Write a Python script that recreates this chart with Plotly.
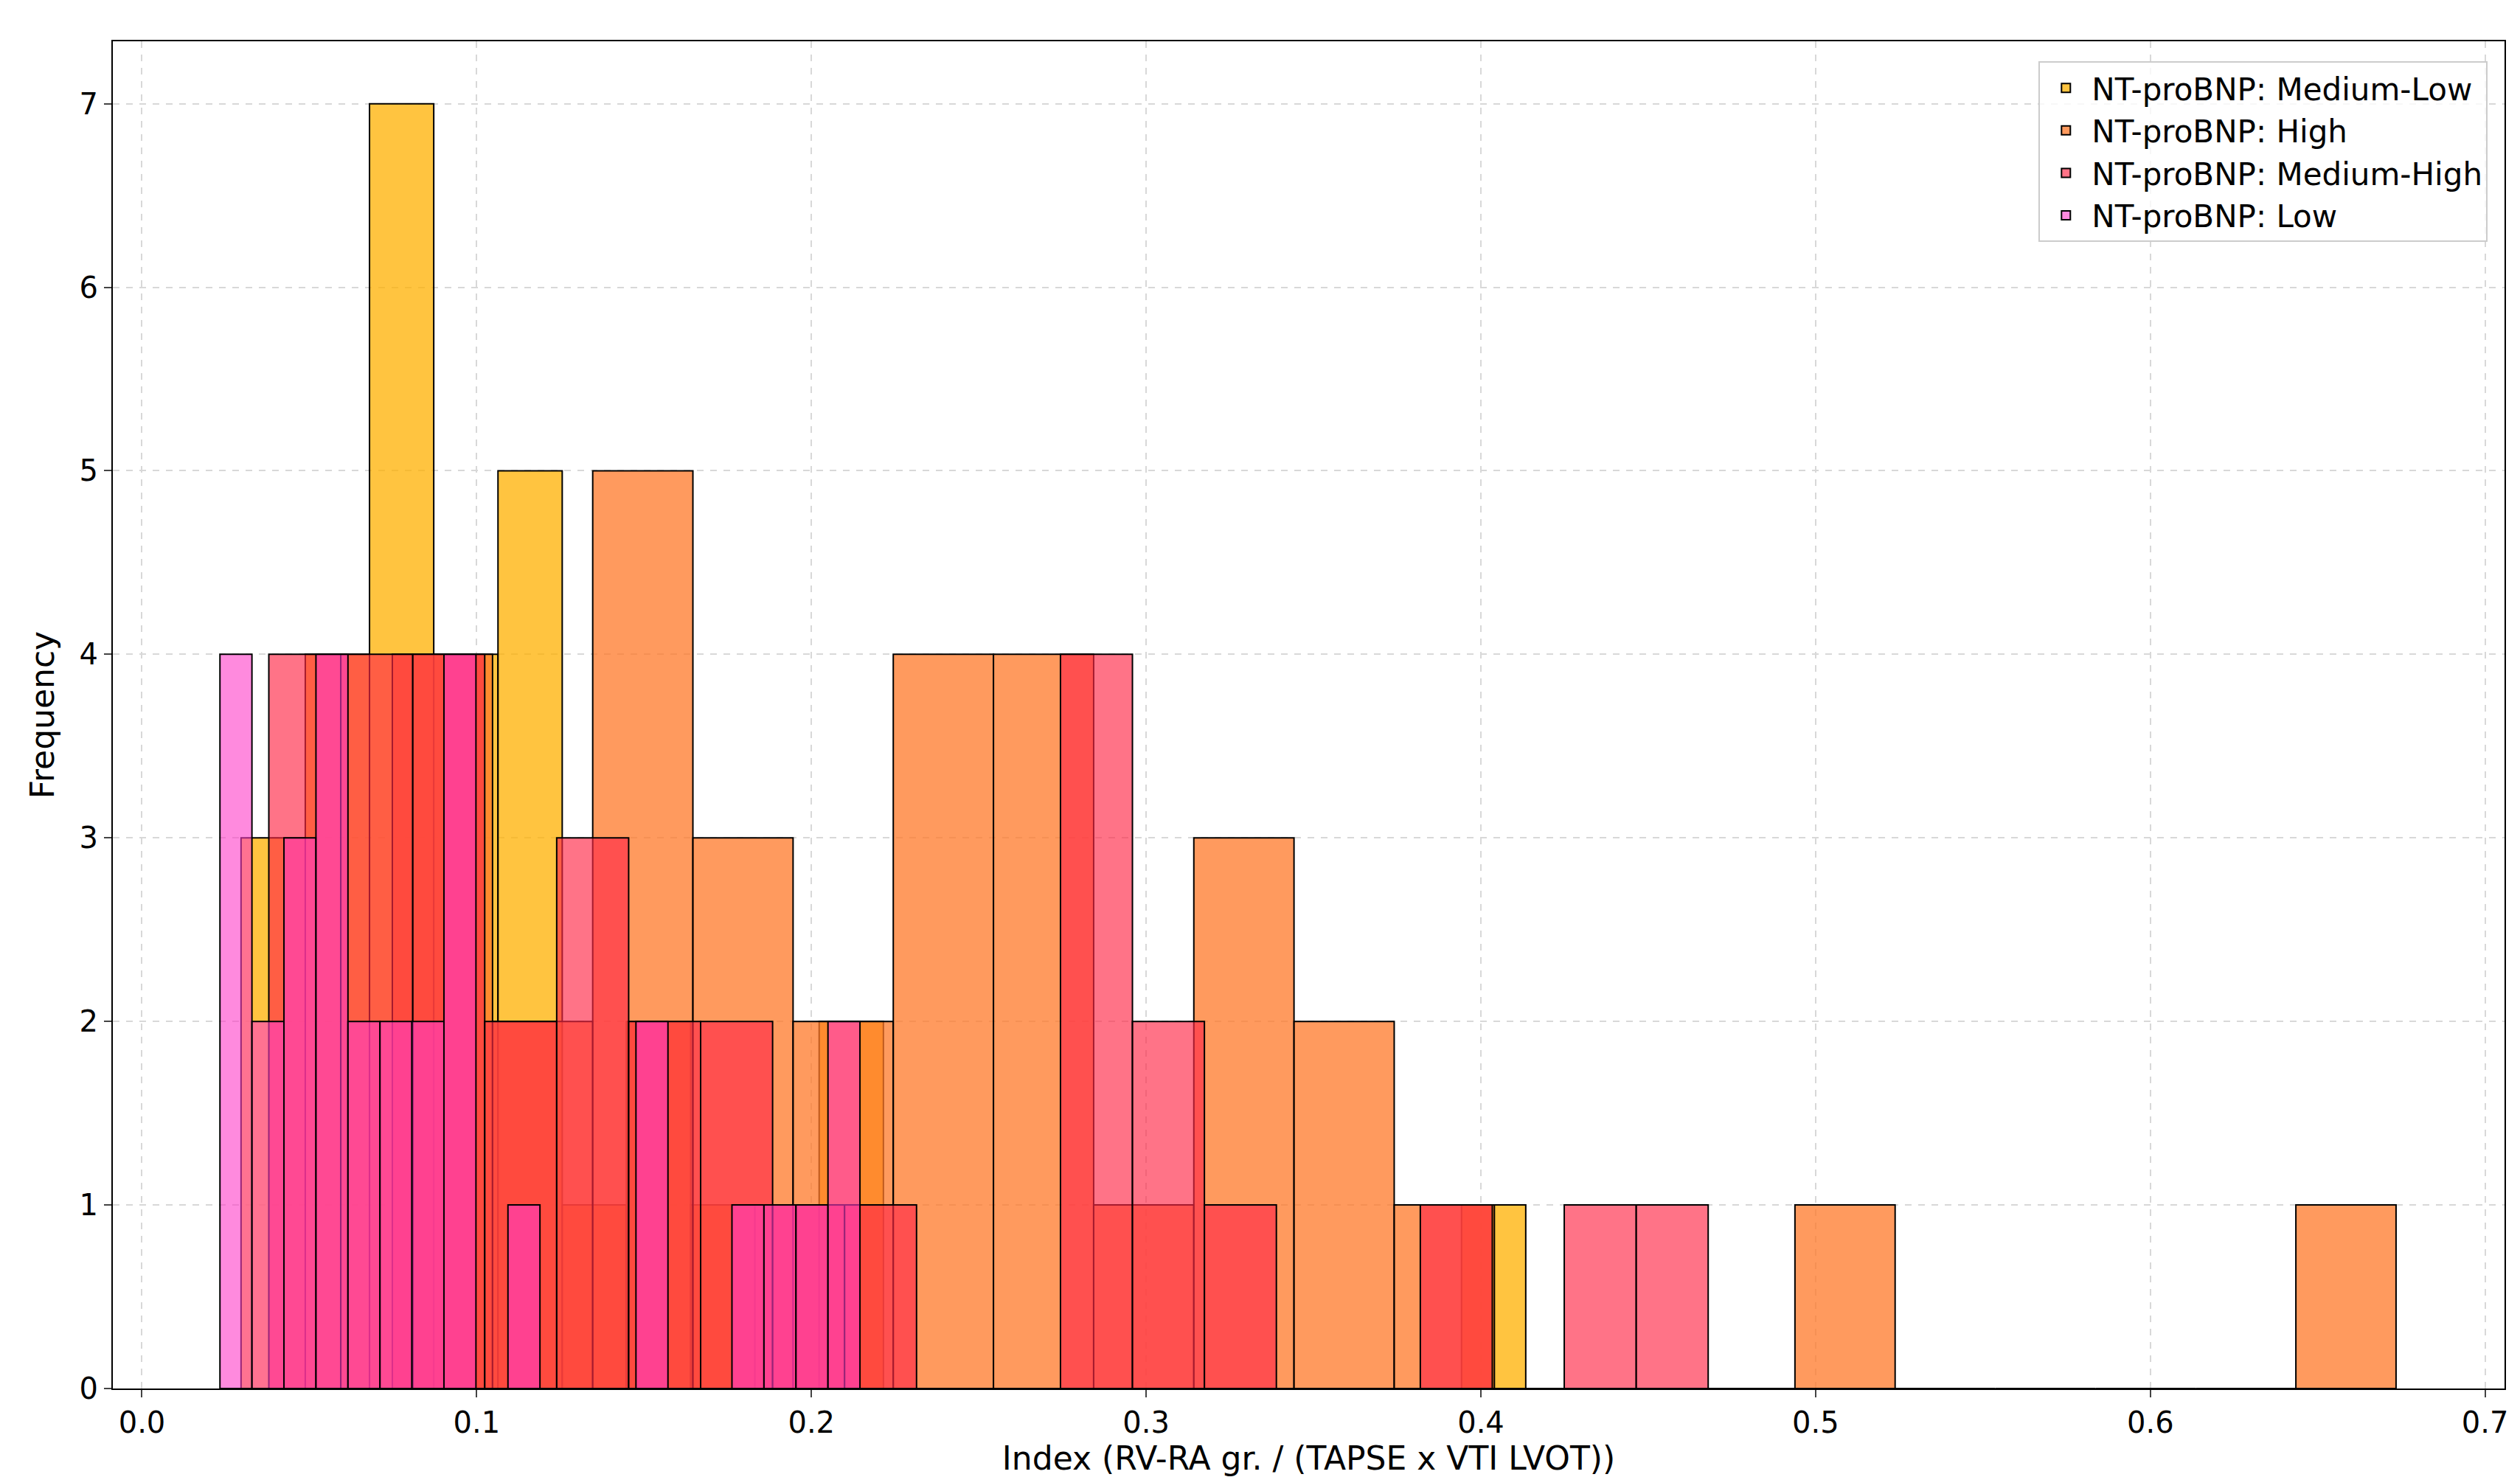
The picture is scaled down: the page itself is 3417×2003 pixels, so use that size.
import plotly.graph_objects as go

# Medium-Low
ml_start, ml_width = 0.0296, 0.01919
ml_counts = [3, 4, 7, 4, 5, 1, 2, 1, 1, 2, 0, 0, 0, 0, 0, 0, 0, 0, 0, 1]
# High
hi_start, hi_width = 0.0748, 0.02993
hi_counts = [4, 2, 5, 3, 2, 4, 4, 1, 3, 2, 1, 0, 0, 0, 1, 0, 0, 0, 0, 1]
# Medium-High
mh_start, mh_width = 0.0379, 0.0215
mh_counts = [4, 4, 4, 2, 3, 2, 2, 1, 1, 0, 0, 4, 2, 1, 0, 0, 1, 0, 1, 1]
# Low
lo_start, lo_width = 0.0233, 0.00956
lo_counts = [4, 2, 3, 4, 2, 2, 2, 4, 0, 1, 0, 0, 0, 2, 0, 0, 1, 1, 1, 2]

series = [
    ("NT-proBNP: Medium-Low", ml_start, ml_width, ml_counts, "rgba(255,176,0,0.75)"),
    ("NT-proBNP: High", hi_start, hi_width, hi_counts, "rgba(255,120,40,0.75)"),
    ("NT-proBNP: Medium-High", mh_start, mh_width, mh_counts, "rgba(255,40,70,0.65)"),
    ("NT-proBNP: Low", lo_start, lo_width, lo_counts, "rgba(255,60,200,0.6)"),
]

fig = go.Figure()
for name, s, w, c, col in series:
    fig.add_trace(go.Bar(
        x=[s + w * (i + 0.5) for i in range(len(c))], y=c, width=w, name=name,
        marker=dict(color=col, line=dict(color="black", width=2)),
    ))

fig.update_layout(
    barmode="overlay", width=3417, height=2003,
    paper_bgcolor="white", plot_bgcolor="white",
    margin=dict(l=145, r=29, t=48, b=128),
    font=dict(family="DejaVu Sans", size=40, color="black"),
    legend=dict(x=0.993, y=0.985, xanchor="right", yanchor="top",
                bordercolor="#cccccc", borderwidth=2, bgcolor="rgba(255,255,255,0.8)",
                font=dict(size=42), itemsizing="constant", itemwidth=60),
    xaxis=dict(range=[-0.0087, 0.7058], tickvals=[0, 0.1, 0.2, 0.3, 0.4, 0.5, 0.6, 0.7],
               ticktext=["0.0", "0.1", "0.2", "0.3", "0.4", "0.5", "0.6", "0.7"],
               showgrid=True, gridcolor="#d8d8d8", griddash="dash", gridwidth=2,
               showline=True, linecolor="black", linewidth=2, mirror=True, ticks="outside",
               ticklen=10, tickwidth=2, zeroline=False,
               title=dict(text="Index (RV-RA gr. / (TAPSE x VTI LVOT))", font=dict(size=44), standoff=8)),
    yaxis=dict(range=[0, 7.34], dtick=1, showgrid=True, gridcolor="#d8d8d8", griddash="dash",
               gridwidth=2, showline=True, linecolor="black", linewidth=2, mirror=True,
               ticks="outside", ticklen=10, tickwidth=2, zeroline=False,
               title=dict(text="Frequency", font=dict(size=44), standoff=20)),
)
fig.write_html("out.html")
